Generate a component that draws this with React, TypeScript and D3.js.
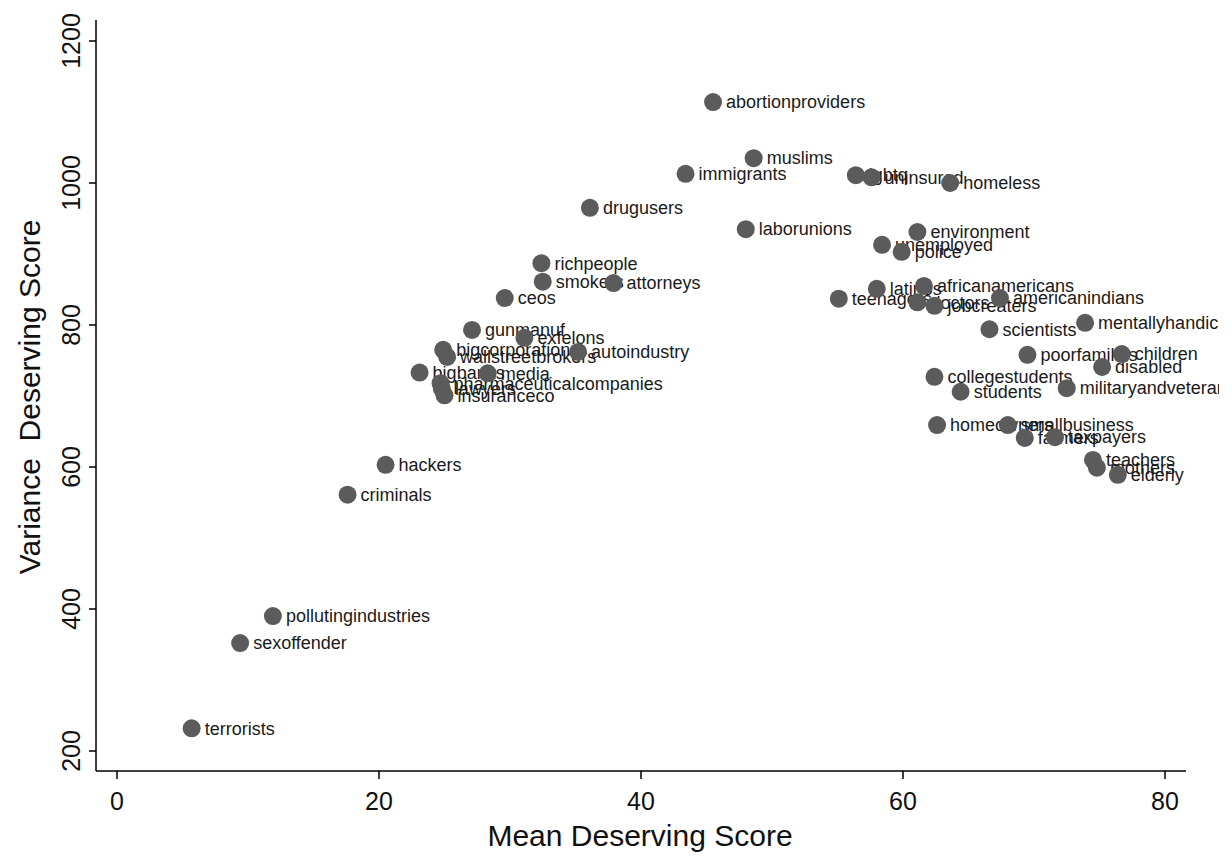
import React from "react";
import * as d3 from "d3";

// Groups, ordered by mean score so right-hand markers sit above left-hand labels
const groups = [
  "terrorists", "sexoffender", "pollutingindustries", "criminals", "hackers",
  "bigbanks", "pharmaceuticalcompanies", "lawyers", "bigcorporations", "insuranceco",
  "wallstreetbrokers", "gunmanuf", "media", "ceos", "exfelons",
  "richpeople", "smokers", "autoindustry", "drugusers", "attorneys",
  "immigrants", "abortionproviders", "laborunions", "muslims", "teenagers",
  "lgbtq", "uninsured", "latinos", "unemployed", "police",
  "environment", "doctors", "africanamericans", "collegestudents", "jobcreaters",
  "homeowners", "homeless", "students", "scientists", "americanindians",
  "smallbusiness", "farmers", "poorfamilies", "taxpayers", "militaryandveterans",
  "mentallyhandicapped", "teachers", "mothers", "disabled", "elderly",
  "children",
];

const meanScore = [
  5.7, 9.4, 11.9, 17.6, 20.5,
  23.1, 24.7, 24.8, 24.9, 25.0,
  25.2, 27.1, 28.3, 29.6, 31.1,
  32.4, 32.5, 35.2, 36.1, 37.9,
  43.4, 45.5, 48.0, 48.6, 55.1,
  56.4, 57.6, 58.0, 58.4, 59.9,
  61.1, 61.1, 61.6, 62.4, 62.4,
  62.6, 63.6, 64.4, 66.6, 67.4,
  68.0, 69.3, 69.5, 71.6, 72.5,
  73.9, 74.5, 74.8, 75.2, 76.4,
  76.7,
];

const varianceScore = [
  232, 352, 390, 561, 603,
  733, 718, 710, 765, 701,
  755, 793, 732, 838, 782,
  887, 861, 762, 965, 859,
  1013, 1114, 935, 1035, 837,
  1011, 1008, 851, 913, 903,
  931, 832, 855, 727, 827,
  659, 1000, 706, 794, 838,
  659, 641, 758, 642, 711,
  803, 610, 599, 741, 589,
  759,
];

const xTicks = [0, 20, 40, 60, 80];
const yTicks = [200, 400, 600, 800, 1000, 1200];

const xTitle = "Mean Deserving Score";
const yTitle = "Variance  Deserving Score";

const W = 1232;
const H = 858;
const FONT = "'Liberation Sans', Arial, Helvetica, sans-serif";

export default function App() {
  const x = d3.scaleLinear().domain([0, 80]).range([117, 1165]);
  const y = d3.scaleLinear().domain([200, 1200]).range([751, 41]);

  const axisLeft = 96;
  const axisBottom = 771;
  const axisTop = 20;
  const axisRight = 1186;

  const points = groups.map((g, i) => ({
    name: g,
    cx: x(meanScore[i]),
    cy: y(varianceScore[i]),
  }));

  return (
    <svg
      width={W}
      height={H}
      viewBox={`0 0 ${W} ${H}`}
      style={{ position: "absolute", left: 0, top: 0, background: "#fff" }}
      fontFamily={FONT}
    >
      <defs>
        <clipPath id="plotClip">
          <rect x={0} y={0} width={1219} height={H} />
        </clipPath>
      </defs>
      <rect x={0} y={0} width={W} height={H} fill="#fff" />

      {/* axes */}
      <line x1={axisLeft} x2={axisLeft} y1={axisTop} y2={axisBottom} stroke="#000" strokeWidth={1.5} />
      <line x1={axisLeft} x2={axisRight} y1={axisBottom} y2={axisBottom} stroke="#000" strokeWidth={1.5} />

      {yTicks.map((t) => (
        <g key={`y${t}`} transform={`translate(${axisLeft},${y(t)})`}>
          <line x1={0} x2={-7} stroke="#000" strokeWidth={1.5} />
          <text
            transform="translate(-16,0) rotate(-90)"
            textAnchor="middle"
            fontSize={25}
            fill="#111"
          >
            {t}
          </text>
        </g>
      ))}

      {xTicks.map((t) => (
        <g key={`x${t}`} transform={`translate(${x(t)},${axisBottom})`}>
          <line y1={0} y2={8} stroke="#000" strokeWidth={1.5} />
          <text y={39} textAnchor="middle" fontSize={25} fill="#111">
            {t}
          </text>
        </g>
      ))}

      <text x={640} y={846} textAnchor="middle" fontSize={30} fill="#111">
        {xTitle}
      </text>
      <text
        transform={`translate(40,397) rotate(-90)`}
        textAnchor="middle"
        fontSize={30}
        fill="#111"
        style={{ whiteSpace: "pre" }}
      >
        {yTitle}
      </text>

      {/* markers with their labels */}
      <g clipPath="url(#plotClip)">
        {points.map((p) => (
          <g key={p.name}>
            <circle cx={p.cx} cy={p.cy} r={9} fill="#5b5b5b" />
            <text x={p.cx + 13} y={p.cy} dy="0.35em" fontSize={18} fill="#1a1a1a">
              {p.name}
            </text>
          </g>
        ))}
      </g>
    </svg>
  );
}
